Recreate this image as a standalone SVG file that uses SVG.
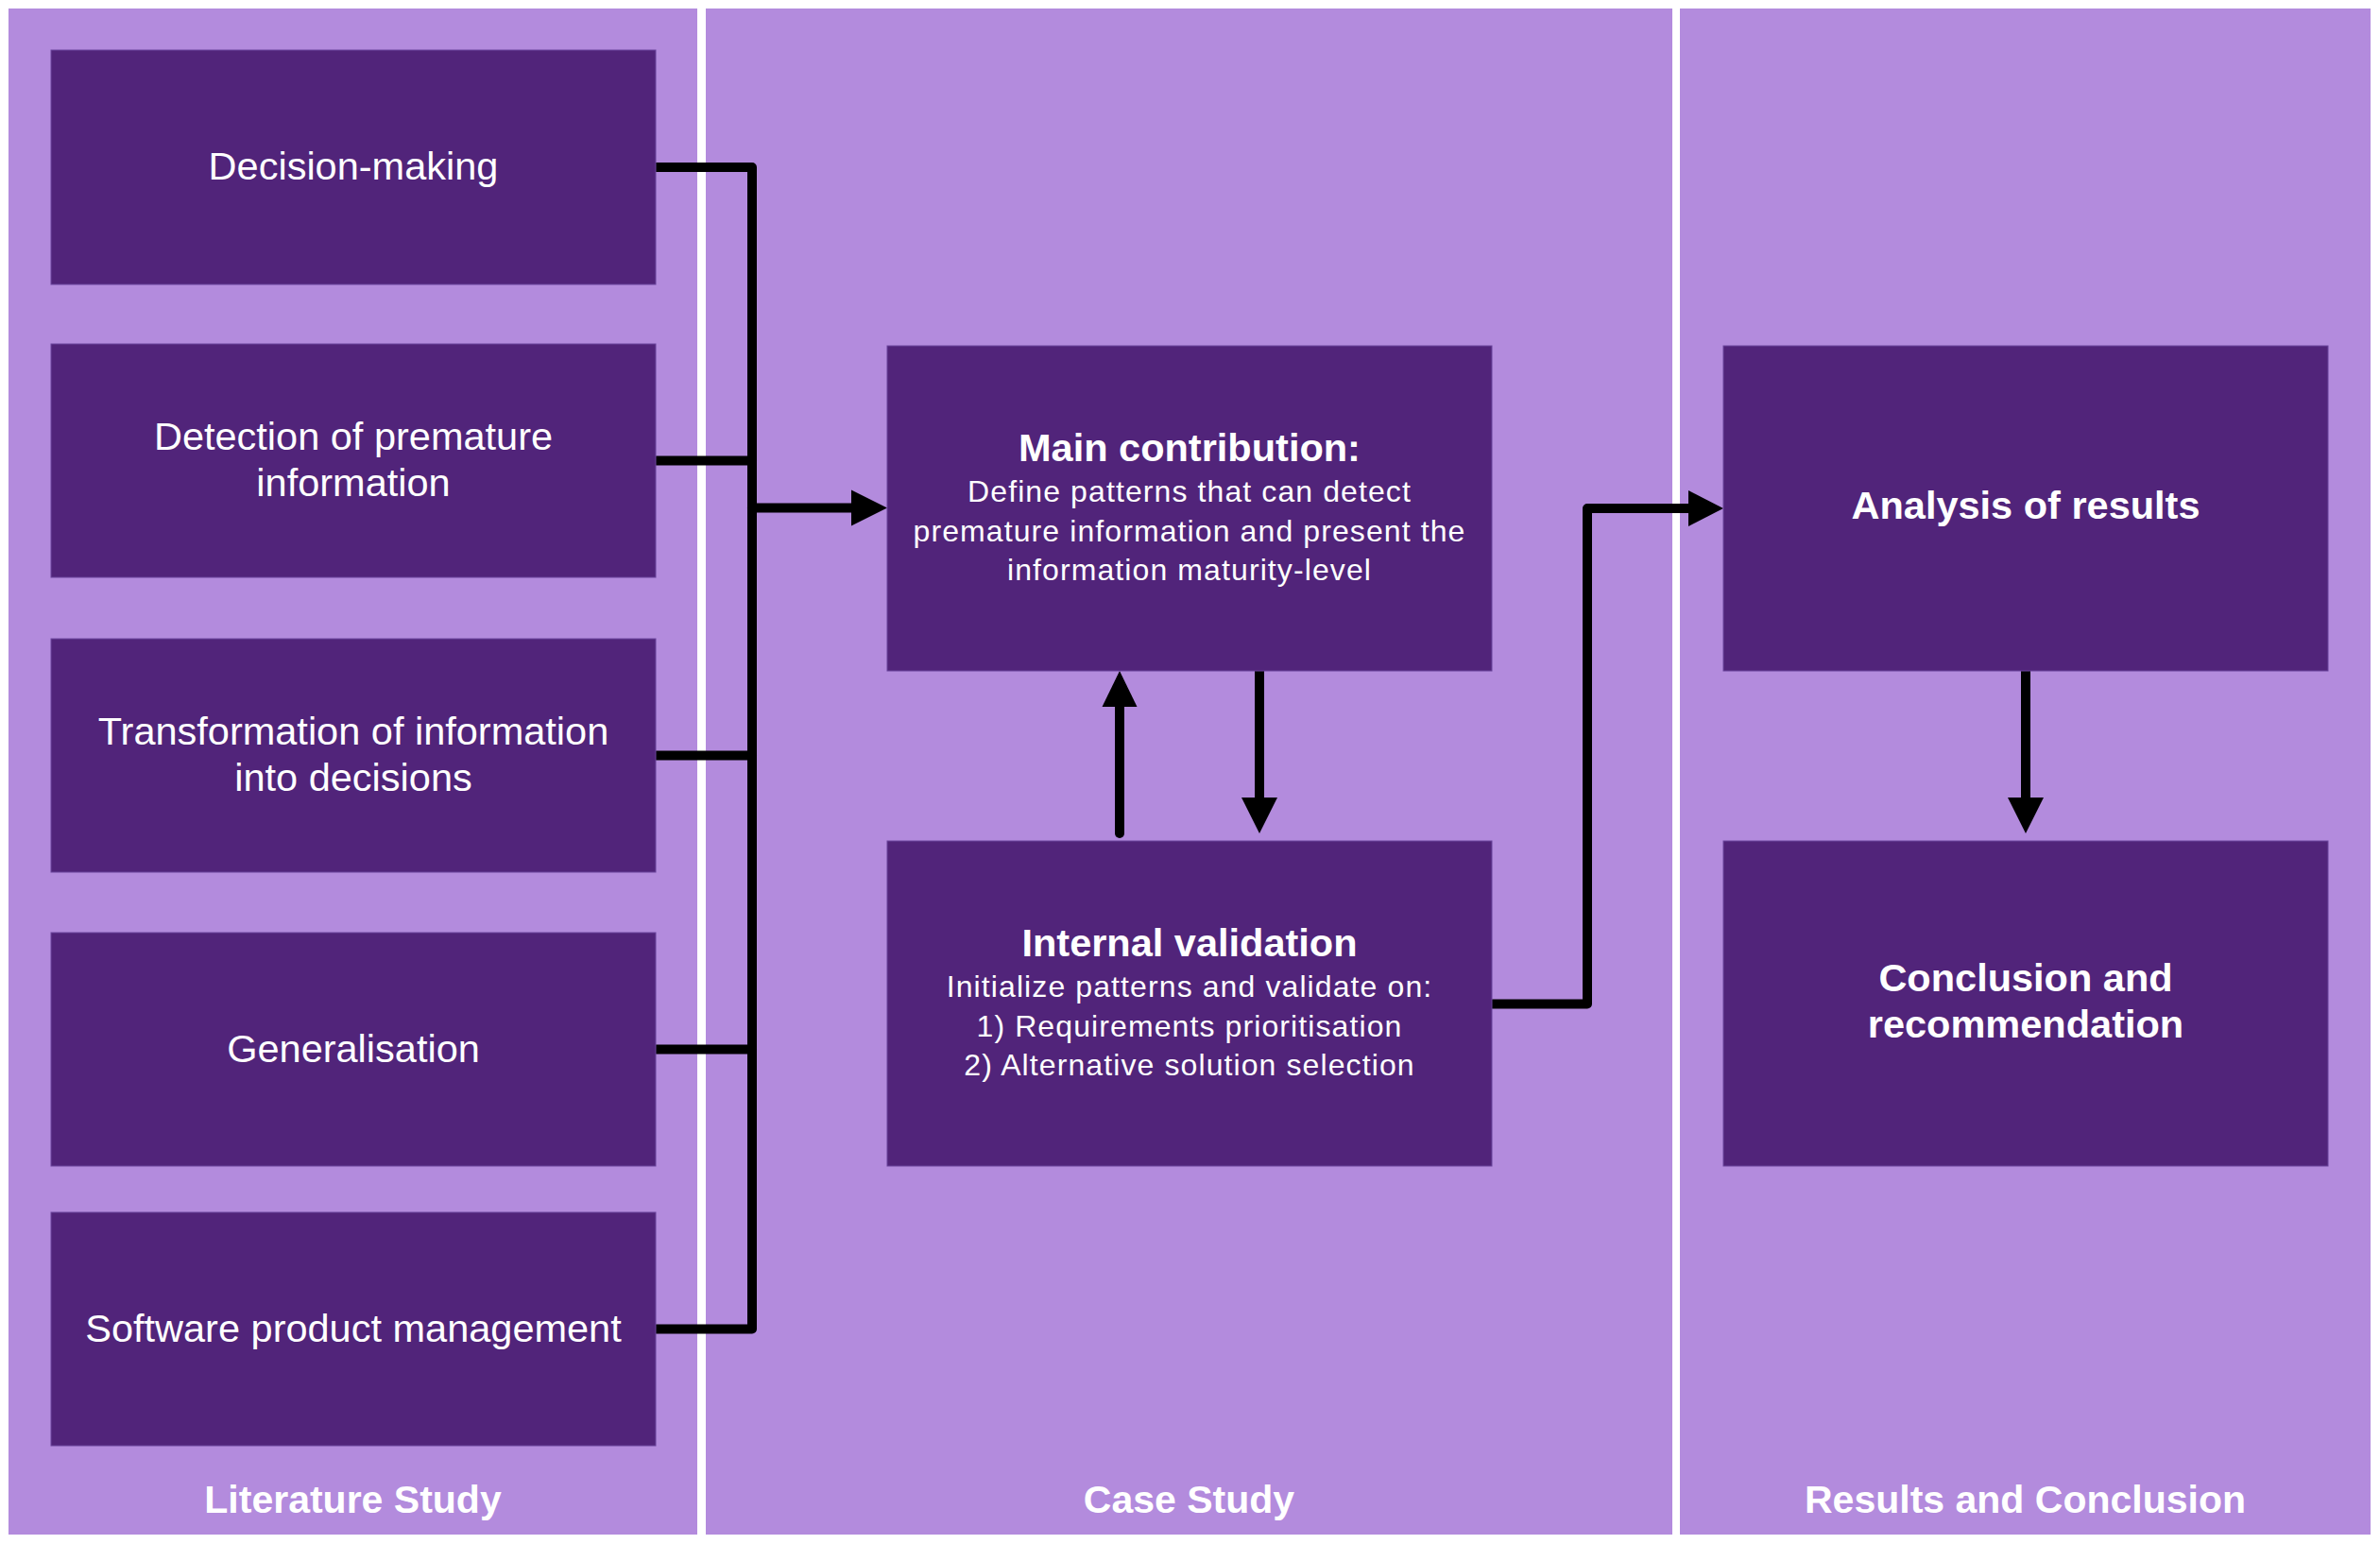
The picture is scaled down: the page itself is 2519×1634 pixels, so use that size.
<svg xmlns="http://www.w3.org/2000/svg" width="2519" height="1634" viewBox="0 0 2519 1634">
<defs>
<style>
.lane{fill:#B38BDD;}
.box{fill:#51247A;stroke:#6A459C;stroke-width:1;}
.t{font-family:"Liberation Sans",Arial,Helvetica,sans-serif;fill:#FFFFFF;text-anchor:middle;}
.reg{font-size:41.5px;}
.bold{font-size:41.5px;font-weight:bold;}
.sub{font-size:32px;letter-spacing:1.1px;}
.lbl{font-size:41px;font-weight:bold;}
.wire{fill:none;stroke:#000000;stroke-width:10;stroke-linejoin:round;stroke-linecap:round;}
.head{fill:#000000;}
</style>
</defs>
<rect x="0" y="0" width="2519" height="1634" fill="#FFFFFF"/>
<g id="lane-literature">
<rect class="lane" x="9" y="9" width="729" height="1615"/>
<text class="t lbl" x="373.5" y="1601">Literature Study</text>
</g>
<g id="lane-case">
<rect class="lane" x="747" y="9" width="1023" height="1615"/>
<text class="t lbl" x="1258.5" y="1601">Case Study</text>
</g>
<g id="lane-results">
<rect class="lane" x="1778" y="9" width="731" height="1615"/>
<text class="t lbl" x="2143.5" y="1601">Results and Conclusion</text>
</g>
<g id="connectors">
<path class="wire" d="M694,177 H796 V1406.5 H694"/>
<path class="wire" d="M694,487.5 H796"/>
<path class="wire" d="M694,799.5 H796"/>
<path class="wire" d="M694,1110.5 H796"/>
<path class="wire" d="M796,537.5 H902"/>
<polygon class="head" points="901,518.5 939,537.5 901,556.5"/>
<path class="wire" d="M1185,882 V746"/>
<polygon class="head" points="1166.5,748 1203.5,748 1185,710"/>
<path class="wire" d="M1333,710 V846"/>
<polygon class="head" points="1314,844 1352,844 1333,882"/>
<path class="wire" d="M1579,1062.5 H1680 V538 H1788"/>
<polygon class="head" points="1787,519 1824,538 1787,557"/>
<path class="wire" d="M2144,710 V846"/>
<polygon class="head" points="2125,844 2163,844 2144,882"/>
</g>
<g id="node-decision-making">
<rect class="box" x="54" y="53" width="640" height="248"/>
<text class="t reg" x="374" y="190">Decision-making</text>
</g>
<g id="node-detection">
<rect class="box" x="54" y="364" width="640" height="247"/>
<text class="t reg" x="374" y="476">Detection of premature</text>
<text class="t reg" x="374" y="525">information</text>
</g>
<g id="node-transformation">
<rect class="box" x="54" y="676" width="640" height="247"/>
<text class="t reg" x="374" y="788">Transformation of information</text>
<text class="t reg" x="374" y="837">into decisions</text>
</g>
<g id="node-generalisation">
<rect class="box" x="54" y="987" width="640" height="247"/>
<text class="t reg" x="374" y="1124">Generalisation</text>
</g>
<g id="node-spm">
<rect class="box" x="54" y="1283" width="640" height="247"/>
<text class="t reg" x="374" y="1420">Software product management</text>
</g>
<g id="node-main-contribution">
<rect class="box" x="939" y="366" width="640" height="344"/>
<text class="t bold" x="1259" y="488">Main contribution:</text>
<text class="t sub" x="1259" y="531">Define patterns that can detect</text>
<text class="t sub" x="1259" y="572.5">premature information and present the</text>
<text class="t sub" x="1259" y="614">information maturity-level</text>
</g>
<g id="node-internal-validation">
<rect class="box" x="939" y="890" width="640" height="344"/>
<text class="t bold" x="1259" y="1012">Internal validation</text>
<text class="t sub" x="1259" y="1055">Initialize patterns and validate on:</text>
<text class="t sub" x="1259" y="1096.5">1) Requirements prioritisation</text>
<text class="t sub" x="1259" y="1138">2) Alternative solution selection</text>
</g>
<g id="node-analysis">
<rect class="box" x="1824" y="366" width="640" height="344"/>
<text class="t bold" x="2144" y="549">Analysis of results</text>
</g>
<g id="node-conclusion">
<rect class="box" x="1824" y="890" width="640" height="344"/>
<text class="t bold" x="2144" y="1049">Conclusion and</text>
<text class="t bold" x="2144" y="1098">recommendation</text>
</g>
</svg>
